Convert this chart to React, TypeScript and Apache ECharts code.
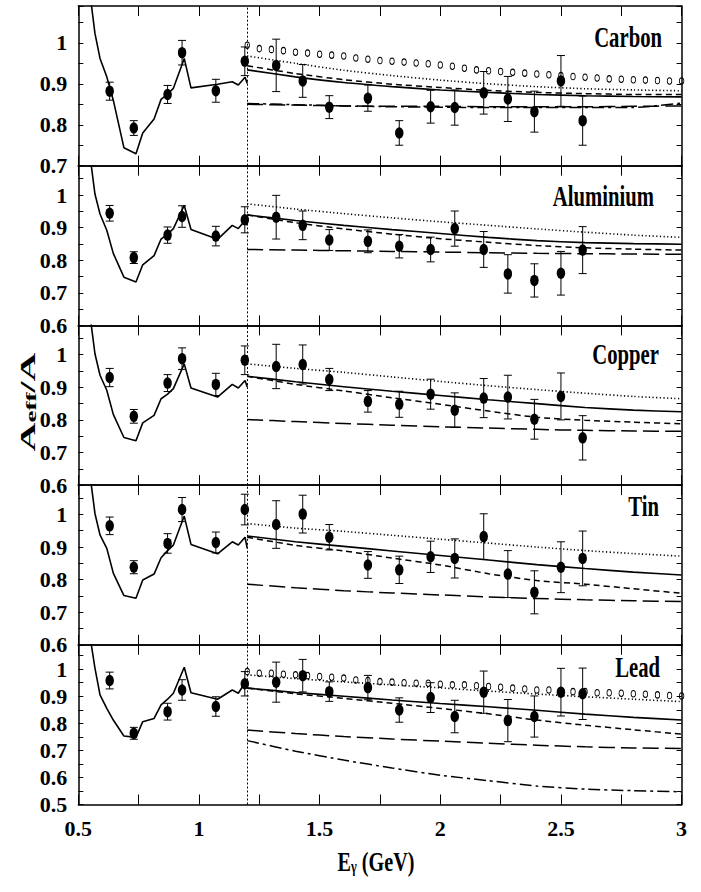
import React, { useEffect, useRef } from "react";
import * as echarts from "echarts";

// ---------------- data ----------------
const PANEL_NAMES = ["Carbon", "Aluminium", "Copper", "Tin", "Lead"];
const Y_MIN = [0.7, 0.6, 0.6, 0.6, 0.5];
const Y_MAX = 1.09;
const X_MIN = 0.5;
const X_MAX = 3.0;
const THRESHOLD_E = 1.2;

// photon energies of the measured points (GeV)
const E_DATA = [0.63, 0.73, 0.87, 0.93, 1.07, 1.19, 1.32, 1.43, 1.54, 1.70, 1.83, 1.96, 2.06, 2.18, 2.28, 2.39, 2.50, 2.59];

const carbonA = [0.882, 0.792, 0.874, 0.976, 0.883, 0.955, 0.945, 0.907, 0.843, 0.865, 0.780, 0.844, 0.842, 0.878, 0.863, 0.832, 0.907, 0.810];
const carbonErr = [0.022, 0.018, 0.022, 0.030, 0.028, 0.035, 0.064, 0.040, 0.028, 0.032, 0.030, 0.040, 0.043, 0.052, 0.055, 0.050, 0.062, 0.060];
const aluminiumA = [0.944, 0.808, 0.877, 0.934, 0.874, 0.924, 0.932, 0.907, 0.862, 0.858, 0.843, 0.833, 0.897, 0.833, 0.758, 0.738, 0.760, 0.831];
const aluminiumErr = [0.024, 0.018, 0.025, 0.033, 0.030, 0.040, 0.067, 0.044, 0.032, 0.035, 0.036, 0.038, 0.054, 0.055, 0.059, 0.051, 0.067, 0.072];
const copperA = [0.930, 0.811, 0.913, 0.988, 0.909, 0.983, 0.964, 0.970, 0.924, 0.857, 0.848, 0.879, 0.830, 0.867, 0.870, 0.802, 0.872, 0.745];
const copperErr = [0.028, 0.021, 0.026, 0.033, 0.034, 0.044, 0.068, 0.060, 0.034, 0.033, 0.040, 0.046, 0.053, 0.060, 0.067, 0.061, 0.072, 0.068];
const tinA = [0.965, 0.838, 0.911, 1.015, 0.914, 1.015, 0.969, 1.001, 0.930, 0.845, 0.830, 0.870, 0.865, 0.932, 0.817, 0.761, 0.838, 0.865];
const tinErr = [0.027, 0.020, 0.030, 0.037, 0.032, 0.047, 0.073, 0.058, 0.039, 0.041, 0.042, 0.048, 0.060, 0.070, 0.072, 0.066, 0.078, 0.084];
const leadA = [0.958, 0.763, 0.843, 0.923, 0.862, 0.946, 0.952, 0.976, 0.917, 0.932, 0.849, 0.895, 0.825, 0.915, 0.810, 0.825, 0.915, 0.909];
const leadErr = [0.031, 0.022, 0.031, 0.038, 0.036, 0.045, 0.074, 0.060, 0.036, 0.045, 0.045, 0.055, 0.060, 0.078, 0.078, 0.076, 0.088, 0.095];

// low-energy (resonance region) model curve
const LOW_E = [0.54, 0.569, 0.590, 0.618, 0.645, 0.689, 0.739, 0.767, 0.814, 0.843, 0.870, 0.894, 0.939, 0.967, 1.077, 1.138, 1.163, 1.191, 1.2];
const carbonLow = [1.16, 1.023, 0.962, 0.917, 0.860, 0.744, 0.729, 0.780, 0.814, 0.862, 0.875, 0.889, 0.962, 0.890, 0.899, 0.905, 0.897, 0.916, 0.901];
const aluminiumLow = [1.17, 1.003, 0.942, 0.892, 0.821, 0.748, 0.733, 0.786, 0.814, 0.865, 0.880, 0.897, 0.968, 0.894, 0.864, 0.907, 0.897, 0.922, 0.907];
const copperLow = [1.17, 1.003, 0.937, 0.891, 0.817, 0.746, 0.736, 0.791, 0.814, 0.865, 0.879, 0.896, 0.972, 0.898, 0.870, 0.909, 0.898, 0.921, 0.901];
const tinLow = [1.17, 1.003, 0.937, 0.896, 0.820, 0.751, 0.743, 0.799, 0.817, 0.867, 0.889, 0.906, 0.995, 0.908, 0.879, 0.916, 0.906, 0.930, 0.896];
const leadLow = [1.17, 1.004, 0.905, 0.855, 0.812, 0.753, 0.748, 0.806, 0.818, 0.868, 0.889, 0.911, 1.007, 0.913, 0.889, 0.923, 0.911, 0.950, 0.930];

// high-energy model curves
const HIGH_E = [1.2, 1.4, 1.6, 1.8, 2.0, 2.2, 2.4, 2.6, 2.8, 3.0];
const carbonDotted = [0.968, 0.950, 0.933, 0.920, 0.909, 0.900, 0.893, 0.888, 0.885, 0.883];
const carbonShortDash = [0.944, 0.925, 0.910, 0.899, 0.891, 0.884, 0.879, 0.876, 0.874, 0.874];
const carbonSolid = [0.934, 0.917, 0.903, 0.893, 0.885, 0.879, 0.874, 0.871, 0.869, 0.868];
const carbonLongDash = [0.850, 0.848, 0.846, 0.845, 0.845, 0.844, 0.844, 0.844, 0.845, 0.846];
const carbonDashDot = [0.852, 0.849, 0.846, 0.844, 0.843, 0.842, 0.842, 0.842, 0.842, 0.853];

const aluminiumDotted = [0.973, 0.957, 0.943, 0.930, 0.918, 0.907, 0.896, 0.886, 0.877, 0.870];
const aluminiumShortDash = [0.939, 0.915, 0.896, 0.880, 0.866, 0.855, 0.845, 0.838, 0.834, 0.831];
const aluminiumSolid = [0.939, 0.922, 0.907, 0.894, 0.882, 0.870, 0.860, 0.854, 0.851, 0.849];
const aluminiumLongDash = [0.833, 0.831, 0.829, 0.827, 0.825, 0.823, 0.821, 0.820, 0.819, 0.818];

const copperDotted = [0.972, 0.958, 0.946, 0.932, 0.918, 0.905, 0.893, 0.882, 0.872, 0.865];
const copperShortDash = [0.934, 0.909, 0.889, 0.868, 0.848, 0.827, 0.808, 0.799, 0.793, 0.788];
const copperSolid = [0.934, 0.917, 0.902, 0.888, 0.875, 0.862, 0.850, 0.838, 0.830, 0.825];
const copperLongDash = [0.801, 0.795, 0.789, 0.784, 0.779, 0.775, 0.771, 0.768, 0.766, 0.765];

const tinDotted = [0.972, 0.958, 0.948, 0.936, 0.924, 0.912, 0.900, 0.889, 0.880, 0.872];
const tinShortDash = [0.930, 0.905, 0.888, 0.866, 0.845, 0.818, 0.797, 0.786, 0.772, 0.758];
const tinSolid = [0.934, 0.916, 0.902, 0.888, 0.874, 0.860, 0.846, 0.834, 0.823, 0.814];
const tinLongDash = [0.786, 0.775, 0.766, 0.759, 0.753, 0.747, 0.742, 0.738, 0.735, 0.733];

const leadDotted = [0.979, 0.965, 0.953, 0.942, 0.931, 0.919, 0.908, 0.898, 0.889, 0.880];
const leadShortDash = [0.930, 0.909, 0.892, 0.874, 0.855, 0.835, 0.812, 0.793, 0.776, 0.760];
const leadSolid = [0.930, 0.914, 0.900, 0.886, 0.873, 0.861, 0.848, 0.834, 0.822, 0.812];
const leadLongDash = [0.775, 0.762, 0.751, 0.742, 0.734, 0.726, 0.719, 0.713, 0.709, 0.707];
const leadDashDot = [0.736, 0.697, 0.664, 0.635, 0.608, 0.588, 0.568, 0.557, 0.551, 0.547];

// open-circle model (Carbon and Lead)
const CIRCLE_E = [1.20, 1.25, 1.30, 1.35, 1.40, 1.45, 1.50, 1.55, 1.60, 1.65, 1.70, 1.75, 1.80, 1.85, 1.90, 1.95, 2.00, 2.05, 2.10, 2.15, 2.20, 2.25, 2.30, 2.35, 2.40, 2.45, 2.50, 2.55, 2.60, 2.65, 2.70, 2.75, 2.80, 2.85, 2.90, 2.95, 3.00];
const carbonCircles = [0.994, 0.986, 0.984, 0.981, 0.977, 0.975, 0.972, 0.970, 0.968, 0.963, 0.960, 0.957, 0.955, 0.953, 0.951, 0.949, 0.946, 0.943, 0.938, 0.934, 0.932, 0.930, 0.928, 0.926, 0.924, 0.922, 0.920, 0.918, 0.916, 0.914, 0.912, 0.911, 0.910, 0.909, 0.908, 0.907, 0.907];
const leadCircles = [0.991, 0.985, 0.985, 0.981, 0.979, 0.976, 0.973, 0.970, 0.967, 0.960, 0.958, 0.954, 0.952, 0.950, 0.948, 0.948, 0.944, 0.942, 0.942, 0.939, 0.936, 0.933, 0.930, 0.927, 0.923, 0.923, 0.921, 0.917, 0.917, 0.913, 0.913, 0.911, 0.909, 0.907, 0.905, 0.903, 0.901];

// ---------------- layout / style ----------------
const FONT = "Liberation Serif, Times New Roman, Times, serif";
const GRID_LEFT = 78.3;
const GRID_WIDTH = 603.3;
const GRID_TOP0 = 6;
const GRID_H = 159.7;
const LABEL_X = [662, 654, 659, 659, 660];
const LABEL_Y = [37, 196, 354, 506, 667];

const STYLES: Record<string, any> = {
  solid: { type: "solid", width: 1.6 },
  dotted: { type: [1.2, 2.4], width: 1.6 },
  shortDash: { type: [6, 4], width: 1.5 },
  longDash: { type: [16, 6], width: 1.5 },
  dashDot: { type: [12, 4, 3, 4], width: 1.5 },
};

const PANELS = [
  { vals: carbonA, errs: carbonErr, low: carbonLow, curves: { dotted: carbonDotted, shortDash: carbonShortDash, solid: carbonSolid, longDash: carbonLongDash, dashDot: carbonDashDot }, circles: carbonCircles },
  { vals: aluminiumA, errs: aluminiumErr, low: aluminiumLow, curves: { dotted: aluminiumDotted, shortDash: aluminiumShortDash, solid: aluminiumSolid, longDash: aluminiumLongDash }, circles: null },
  { vals: copperA, errs: copperErr, low: copperLow, curves: { dotted: copperDotted, shortDash: copperShortDash, solid: copperSolid, longDash: copperLongDash }, circles: null },
  { vals: tinA, errs: tinErr, low: tinLow, curves: { dotted: tinDotted, shortDash: tinShortDash, solid: tinSolid, longDash: tinLongDash }, circles: null },
  { vals: leadA, errs: leadErr, low: leadLow, curves: { dotted: leadDotted, shortDash: leadShortDash, solid: leadSolid, longDash: leadLongDash, dashDot: leadDashDot }, circles: leadCircles },
];

const pairs = (xs: number[], ys: number[]) => xs.map((x, k) => [x, ys[k]]);

const yFmt = (v: number) => {
  const r = Math.round(v * 10);
  if (Math.abs(v * 10 - r) > 1e-6) return "";
  return r === 10 ? "1" : (r / 10).toFixed(1);
};
const xFmt = (v: number) => {
  const r = Math.round(v * 2);
  if (Math.abs(v * 2 - r) > 1e-6) return "";
  return String(r / 2);
};

const ELLIPSE = "path://M0,-10A10,10,0,1,1,0,10A10,10,0,1,1,0,-10Z";

function buildOption() {
  const grid: any[] = [];
  const xAxis: any[] = [];
  const yAxis: any[] = [];
  const series: any[] = [];
  const n = PANELS.length;
  const lineColor = "#000";
  const labelStyle = { fontFamily: FONT, fontWeight: "bold", fontSize: 22, color: "#000" };

  PANELS.forEach((p, i) => {
    grid.push({ left: GRID_LEFT, width: GRID_WIDTH, top: GRID_TOP0 + i * GRID_H, height: GRID_H });
    const xCommon = {
      type: "value", gridIndex: i, min: X_MIN, max: X_MAX, interval: 0.25,
      axisLine: { show: true, onZero: false, lineStyle: { color: lineColor, width: 1.5 } },
      axisTick: { show: true, inside: true, length: 10, lineStyle: { color: lineColor, width: 1 } },
      splitLine: { show: false },
    };
    xAxis.push({ ...xCommon, position: "bottom", axisLabel: { show: i === n - 1, formatter: xFmt, margin: 13, ...labelStyle } });
    xAxis.push({ ...xCommon, position: "top", axisLabel: { show: false } });
    const yCommon = {
      type: "value", gridIndex: i, min: Y_MIN[i], max: Y_MAX, interval: 0.1,
      axisLine: { show: true, onZero: false, lineStyle: { color: lineColor, width: 1.5 } },
      axisTick: { show: true, inside: true, length: 5, lineStyle: { color: lineColor, width: 1 } },
      minorTick: { show: true, splitNumber: 2, length: 5, lineStyle: { color: lineColor, width: 1 } },
      splitLine: { show: false },
      minorSplitLine: { show: false },
    };
    yAxis.push({ ...yCommon, position: "left", axisLabel: { show: true, formatter: yFmt, margin: 11, ...labelStyle } });
    yAxis.push({ ...yCommon, position: "right", axisLabel: { show: false } });

    const xi = 2 * i;
    const yi = 2 * i;
    // low-energy model
    series.push({
      type: "line", xAxisIndex: xi, yAxisIndex: yi, data: pairs(LOW_E, p.low), symbol: "none",
      lineStyle: { color: "#000", ...STYLES.solid }, clip: true, silent: true, z: 3,
      markLine: {
        silent: true, symbol: "none", label: { show: false },
        lineStyle: { color: "#000", type: [2, 2], width: 1 },
        data: [{ xAxis: THRESHOLD_E }],
      },
    });
    // high-energy models
    Object.entries(p.curves).forEach(([k, ys]) => {
      series.push({
        type: "line", xAxisIndex: xi, yAxisIndex: yi, data: pairs(HIGH_E, ys as number[]), symbol: "none",
        smooth: 0.2, lineStyle: { color: "#000", ...STYLES[k] }, clip: true, silent: true, z: 3,
      });
    });
    if (p.circles) {
      series.push({
        type: "scatter", xAxisIndex: xi, yAxisIndex: yi, data: pairs(CIRCLE_E, p.circles),
        symbol: ELLIPSE, symbolSize: [4.5, 6.5], silent: true, z: 4,
        itemStyle: { color: "rgba(0,0,0,0)", borderColor: "#000", borderWidth: 0.9, opacity: 1 },
      });
    }
    // error bars
    series.push({
      type: "custom", xAxisIndex: xi, yAxisIndex: yi, silent: true, z: 5,
      data: E_DATA.map((e, k) => [e, p.vals[k] - p.errs[k], p.vals[k] + p.errs[k]]),
      encode: { x: 0, y: [1, 2] },
      renderItem: (_params: any, api: any) => {
        const x = api.value(0);
        const top = api.coord([x, api.value(2)]);
        const bot = api.coord([x, api.value(1)]);
        const hw = 4;
        const st = { stroke: "#000", lineWidth: 1 };
        return {
          type: "group",
          children: [
            { type: "line", shape: { x1: top[0], y1: top[1], x2: bot[0], y2: bot[1] }, style: st },
            { type: "line", shape: { x1: top[0] - hw, y1: top[1], x2: top[0] + hw, y2: top[1] }, style: st },
            { type: "line", shape: { x1: bot[0] - hw, y1: bot[1], x2: bot[0] + hw, y2: bot[1] }, style: st },
          ],
        };
      },
    });
    // data points
    series.push({
      type: "scatter", xAxisIndex: xi, yAxisIndex: yi, data: pairs(E_DATA, p.vals),
      symbol: ELLIPSE, symbolSize: [8.5, 11.5], silent: true, z: 6,
      itemStyle: { color: "#000", opacity: 1 },
    });
  });

  const graphic: any[] = PANEL_NAMES.map((name, i) => ({
    type: "text", x: LABEL_X[i], y: LABEL_Y[i], scaleX: 0.69, silent: true, z: 10,
    style: { text: name, fontFamily: FONT, fontWeight: "bold", fontSize: 30, fill: "#000", align: "right", verticalAlign: "middle" },
  }));
  graphic.push({
    type: "text", x: 28, y: 402, rotation: Math.PI / 2, scaleY: 0.55, silent: true, z: 10,
    style: {
      text: "{a|A}{s|eff}{a|/A}", align: "center", verticalAlign: "middle", fill: "#000",
      rich: {
        a: { fontFamily: FONT, fontWeight: "bold", fontSize: 40, fill: "#000" },
        s: { fontFamily: FONT, fontWeight: "bold", fontSize: 27, lineHeight: 10, verticalAlign: "bottom", fill: "#000" },
      },
    },
  });
  graphic.push({
    type: "text", x: 376, y: 861, scaleX: 0.72, silent: true, z: 10,
    style: {
      text: "{a|E}{s|γ}{a| (GeV)}", align: "center", verticalAlign: "middle", fill: "#000",
      rich: {
        a: { fontFamily: FONT, fontWeight: "bold", fontSize: 28, fill: "#000" },
        s: { fontFamily: FONT, fontWeight: "bold", fontSize: 17, lineHeight: 6, verticalAlign: "bottom", fill: "#000" },
      },
    },
  });

  return { animation: false, backgroundColor: "#fff", grid, xAxis, yAxis, series, graphic };
}

export default function App() {
  const ref = useRef<HTMLDivElement>(null);
  useEffect(() => {
    if (!ref.current) return;
    const chart = echarts.init(ref.current, null, { renderer: "svg" });
    chart.setOption(buildOption() as any);
    return () => chart.dispose();
  }, []);
  return (
    <div
      ref={ref}
      style={{ position: "absolute", left: 0, top: 0, width: 701, height: 892, background: "#fff" }}
    />
  );
}
